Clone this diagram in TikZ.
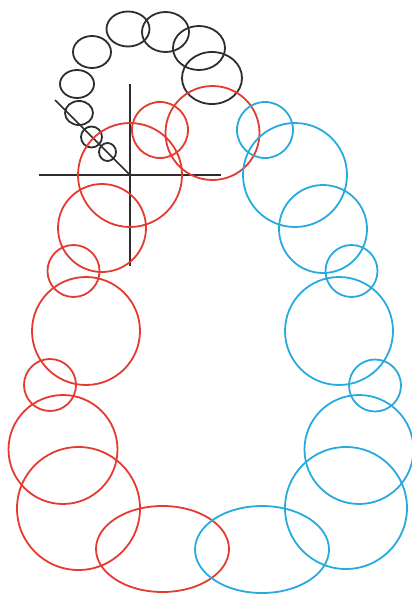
\documentclass[tikz,border=0pt]{standalone}
\usepackage{tikz}
\usepackage{xcolor}
\definecolor{archred}{RGB}{228,58,48}
\definecolor{archblue}{RGB}{40,170,222}
\definecolor{archgrey}{RGB}{45,45,45}

\begin{document}
\begin{tikzpicture}[
        x=1pt, y=-1pt,
        redring/.style={draw=archred, line width=1.8pt},
        bluering/.style={draw=archblue, line width=1.8pt},
        greyring/.style={draw=archgrey, line width=1.8pt},
        axisline/.style={draw=archgrey, line width=1.6pt}
    ]

    \useasboundingbox (0,0) rectangle (412,594);

    \draw [greyring] (128,29) ellipse [x radius=21.5, y radius=17.5];
    \draw [greyring] (165.5,32) ellipse [x radius=23.5, y radius=20];
    \draw [greyring] (199,48) ellipse [x radius=26, y radius=22];
    \draw [greyring] (212,78) ellipse [x radius=30, y radius=26];
    \draw [greyring] (92,52) ellipse [x radius=19, y radius=16];
    \draw [greyring] (77,84) ellipse [x radius=17, y radius=14];
    \draw [greyring] (79,113) ellipse [x radius=14, y radius=12];
    \draw [greyring] (91.5,137) ellipse [x radius=10.5, y radius=10.5];
    \draw [greyring] (107.5,152) ellipse [x radius=8.5, y radius=9];

    \coordinate (cross) at (130,175);
    \draw [axisline] (55,100) -- (cross);
    \draw [axisline] (130,84) -- (130,266);
    \draw [axisline] (39,175) -- (221,175);

    \draw [redring] (160,130) circle [radius=28];
    \draw [redring] (212.5,133) circle [radius=47];
    \draw [redring] (130,175) circle [radius=52];
    \draw [redring] (102,228) circle [radius=44];
    \draw [redring] (73.5,271) circle [radius=26];
    \draw [redring] (86,331) circle [radius=54];
    \draw [redring] (50,385) circle [radius=26];
    \draw [redring] (63,449.5) circle [radius=54.5];
    \draw [redring] (78.5,508.5) circle [radius=61.5];
    \draw [redring] (162.5,549) ellipse [x radius=66.5, y radius=43];

    \draw [bluering] (265,130) circle [radius=28];
    \draw [bluering] (295,175) circle [radius=52];
    \draw [bluering] (323,229) circle [radius=44];
    \draw [bluering] (351.5,271) circle [radius=26];
    \draw [bluering] (339,331) circle [radius=54];
    \draw [bluering] (375,385.5) circle [radius=26];
    \draw [bluering] (359,449.5) circle [radius=54.5];
    \draw [bluering] (346,508) circle [radius=61];
    \draw [bluering] (262,549.5) ellipse [x radius=67, y radius=43.5];

\end{tikzpicture}
\end{document}
